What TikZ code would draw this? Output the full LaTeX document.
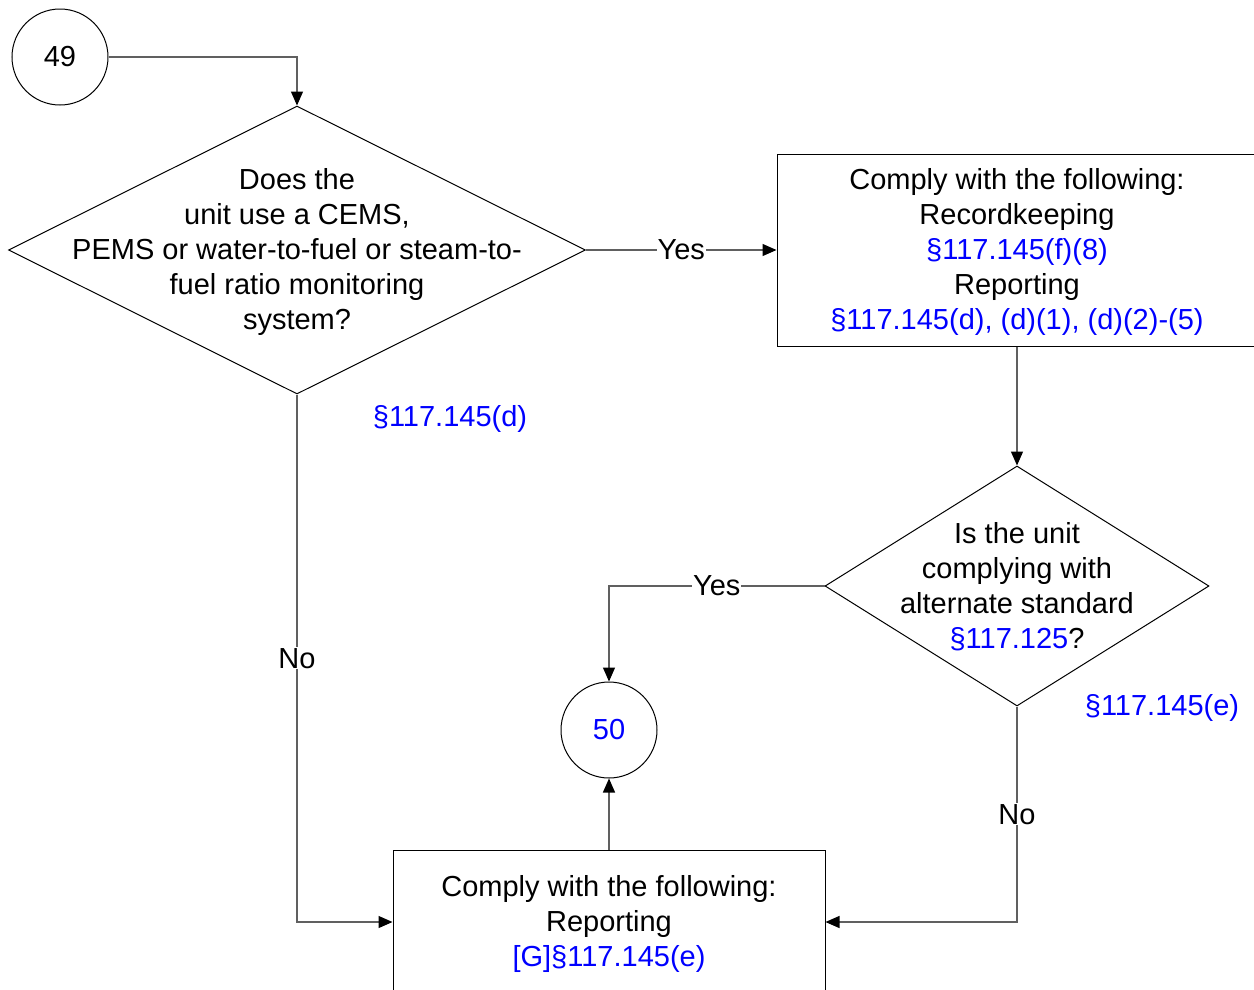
\documentclass[tikz,border=0pt]{standalone}
\usepackage{fontspec}
\setmainfont{Liberation Sans}
\usetikzlibrary{shapes.geometric,arrows.meta}
\definecolor{refblue}{RGB}{0,0,255}
\definecolor{conncol}{RGB}{96,96,96}
\begin{document}
\begin{tikzpicture}[x=1pt,y=-1pt,
  every node/.style={font=\fontsize{29}{35}\selectfont},
  shapeline/.style={draw=black,line width=1pt},
  circ/.style={shapeline,circle,minimum size=96pt,inner sep=0pt},
  dia/.style={shapeline,diamond,inner sep=0pt},
  boxnode/.style={shapeline,rectangle,inner sep=0pt},
  txt/.style={align=center,inner sep=0pt},
  conn/.style={draw=conncol,line width=1.3pt,-{Triangle[length=14pt,width=12pt,fill=black,color=black]}},
  lbl/.style={fill=white,inner sep=1pt},
  ref/.style={text=refblue}]
\useasboundingbox (0,0) rectangle (1254,989);
\fill[white] (0,0) rectangle (1254,989);

% nodes
\node[circ] (c49) at (60,57) {49};
\node[dia,minimum width=577pt,minimum height=288pt] (d1) at (297,250) {};
\node[txt] (t1) at (297,252) {Does the\\unit use a CEMS,\\PEMS or water-to-fuel or steam-to-\\fuel ratio monitoring\\system?};
\node[boxnode,minimum width=480pt,minimum height=192pt] (b1) at (1017,250) {};
\node[txt] (t2) at (1017,252) {Comply with the following:\\Recordkeeping\\\textcolor{refblue}{§117.145(f)(8)}\\Reporting\\\textcolor{refblue}{§117.145(d), (d)(1), (d)(2)-(5)}};
\node[dia,minimum width=384pt,minimum height=240pt] (d2) at (1017,586) {};
\node[txt] (t3) at (1017,587) {Is the unit\\complying with\\alternate standard\\\textcolor{refblue}{§117.125}?};
\node[circ,ref] (c50) at (609,730) {50};
\node[boxnode,minimum width=432pt,minimum height=144pt] (b2) at (609,922) {};
\node[txt] (t4) at (609,924) {Comply with the following:\\Reporting\\\textcolor{refblue}{[G]§117.145(e)}};
\node[ref,inner sep=0pt] (r1) at (450,419) {§117.145(d)};
\node[ref,inner sep=0pt] (r2) at (1162,708) {§117.145(e)};

% connectors
\draw[conn] (c49.east) -- (d1.north |- c49.east) -- (d1.north);
\draw[conn] (d1.east) -- node[lbl]{Yes} (b1.west);
\draw[conn] (b1.south) -- (d2.north);
\draw[conn] (d2.west) -- node[lbl]{Yes} (c50.north |- d2.west) -- (c50.north);
\draw[conn] (b2.north) -- (c50.south);
\draw[conn] (d1.south) -- node[lbl]{No} (d1.south |- b2.west) -- (b2.west);
\draw[conn] (d2.south) -- node[lbl]{No} (d2.south |- b2.east) -- (b2.east);
\end{tikzpicture}
\end{document}
